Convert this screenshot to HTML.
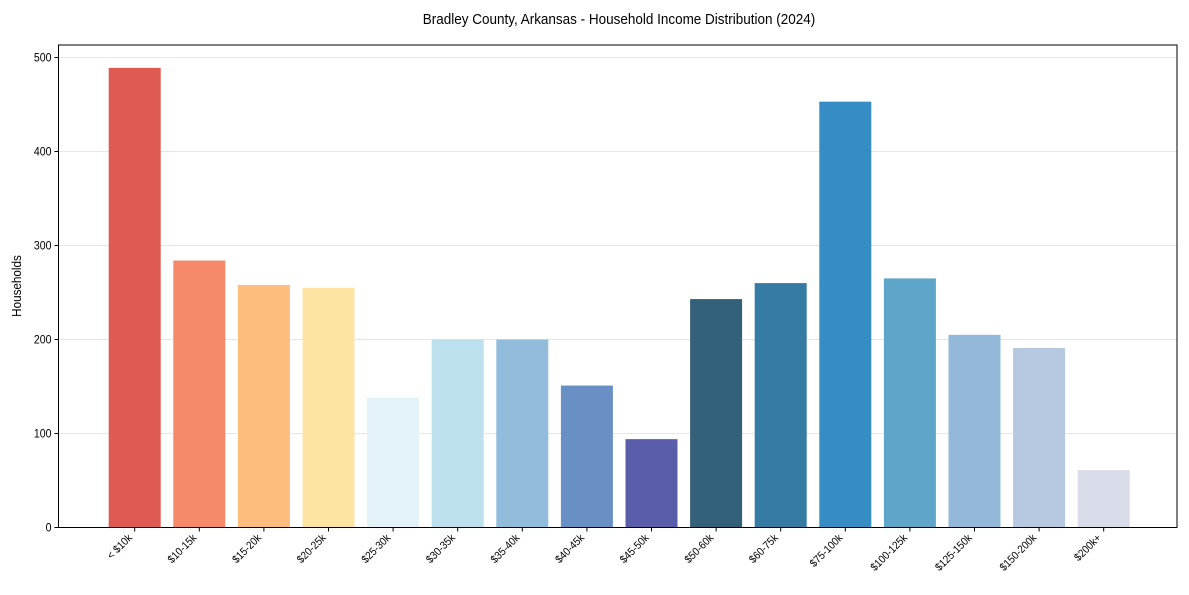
<!DOCTYPE html>
<html><head><meta charset="utf-8"><style>
body{margin:0;background:#fff;font-family:"Liberation Sans",Arial,sans-serif;}
svg text{font-family:"Liberation Sans",Arial,sans-serif;fill:#000;}
</style></head><body>
<svg id="chart" width="1189" height="590" viewBox="0 0 1189 590" xmlns="http://www.w3.org/2000/svg">
<rect width="1189" height="590" fill="#fff"/>
<text transform="translate(619,24) scale(0.9,1)" text-anchor="middle" font-size="15">Bradley County, Arkansas - Household Income Distribution (2024)</text>
<text transform="translate(21,286) rotate(-90) scale(0.9,1)" text-anchor="middle" font-size="13">Households</text>
<g id="grid"></g><g id="bars"></g><g id="axes"></g>
</svg>
<script>
const categories=["< $10k","$10-15k","$15-20k","$20-25k","$25-30k","$30-35k","$35-40k","$40-45k","$45-50k","$50-60k","$60-75k","$75-100k","$100-125k","$125-150k","$150-200k","$200k+"];
const values=[489,284,258,255,138,200,200,151,94,243,260,453,265,205,191,61];
const colors=["#de5a52","#f5896a","#fdbd7e","#fee4a2","#e3f3f8","#bce0ee","#92bcdc","#6890c4","#5a5da9","#33617a","#367ba4","#368dc3","#5ea6c9","#93b8d9","#b6c9e1","#d8dbe9"];
const yTicks=[0,100,200,300,400,500];
const L=58.5,R=1177,T=45,B=527.5;
const y=v=>B-v*0.94;
const x=i=>134.7+i*64.6;
const ns="http://www.w3.org/2000/svg";
function mk(t,a,p){const e=document.createElementNS(ns,t);for(const k in a)e.setAttribute(k,a[k]);p.appendChild(e);return e;}
const grid=document.getElementById('grid'),bars=document.getElementById('bars'),axes=document.getElementById('axes');
yTicks.forEach(v=>{
 const g=mk('line',{x1:L,x2:R,y1:y(v),y2:y(v),stroke:'#e6e6e6','stroke-width':1},grid);
 
 
 mk('line',{x1:L-4,x2:L,y1:y(v),y2:y(v),stroke:'#000'},axes);
 const t=mk('text',{transform:`translate(${L-7},${y(v)+4}) scale(0.88,1)`,'text-anchor':'end','font-size':12},axes);t.textContent=v;
 
 
});
values.forEach((v,i)=>{
 const r=mk('rect',{x:x(i)-26,y:y(v),width:52,height:B-y(v),fill:colors[i]},bars);
 
 
 mk('line',{x1:x(i),x2:x(i),y1:B,y2:B+4,stroke:'#000'},axes);
 const t=mk('text',{transform:`translate(${x(i)-2},${B+11}) rotate(-45) scale(0.9,1)`,'text-anchor':'end','font-size':11},axes);t.textContent=categories[i];
 
 
});
const f=mk('rect',{x:L,y:T,width:R-L,height:B-T,fill:'none',stroke:'#000','stroke-width':1},axes);


</script>
</body></html>
